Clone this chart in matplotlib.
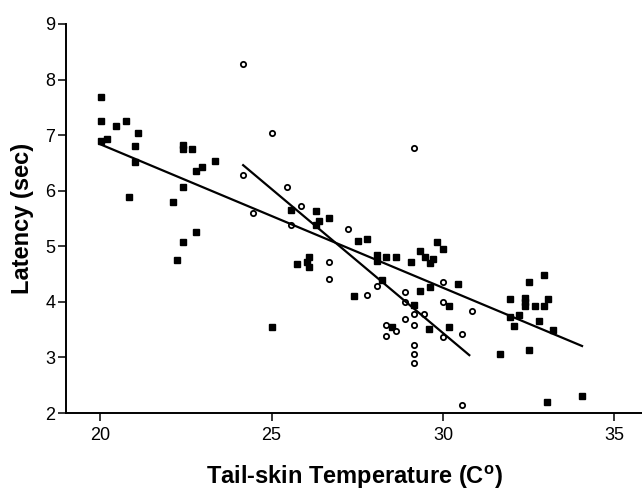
import numpy as np
import matplotlib.pyplot as plt

# Fonts
plt.rcParams['font.family'] = ['Liberation Sans', 'DejaVu Sans']
plt.rcParams['mathtext.fontset'] = 'custom'
plt.rcParams['mathtext.bf'] = 'Liberation Sans:bold'
plt.rcParams['mathtext.rm'] = 'Liberation Sans'

# Filled squares
sq_temp = [20.01, 20.01, 20.45, 20.74, 21.11, 20.01, 20.19, 21.01, 21.01, 20.84,
           22.40, 22.40, 22.68, 22.79, 22.96, 23.35, 22.40, 22.13, 22.80, 22.40,
           22.23, 25.01, 25.56, 26.29, 26.39, 26.67, 26.29, 25.73, 26.02, 26.10,
           26.10, 27.51, 27.78, 28.07, 28.07, 28.34, 28.62, 29.07, 28.22, 27.40,
           29.16, 29.33, 28.50, 29.60, 29.83, 29.33, 30.01, 29.47, 29.62, 29.72,
           30.45, 29.62, 30.18, 30.18, 31.96, 32.52, 32.95, 32.40, 32.40, 32.40,
           32.68, 32.95, 33.07, 31.96, 32.23, 32.08, 32.79, 33.22, 31.68, 32.52,
           33.05, 34.06]
sq_latency = [7.69, 7.25, 7.16, 7.25, 7.03, 6.90, 6.93, 6.80, 6.52, 5.89,
              6.83, 6.75, 6.75, 6.36, 6.42, 6.53, 6.07, 5.80, 5.26, 5.08,
              4.75, 3.54, 5.65, 5.64, 5.45, 5.51, 5.38, 4.69, 4.72, 4.81,
              4.63, 5.10, 5.14, 4.84, 4.74, 4.81, 4.80, 4.72, 4.40, 4.11,
              3.94, 4.20, 3.54, 3.52, 5.08, 4.92, 4.96, 4.81, 4.70, 4.77,
              4.32, 4.27, 3.93, 3.55, 4.05, 4.36, 4.48, 4.07, 4.00, 3.93,
              3.93, 3.93, 4.05, 3.73, 3.76, 3.57, 3.66, 3.49, 3.07, 3.14,
              2.20, 2.30]

# Open circles
ci_temp = [24.17, 24.17, 25.00, 25.44, 24.45, 25.85, 25.56, 27.23, 26.67, 26.67,
           28.07, 27.77, 28.90, 28.90, 29.16, 29.16, 29.45, 28.90, 29.16, 28.33,
           28.62, 28.33, 29.16, 29.16, 29.16, 30.01, 30.01, 30.84, 30.56, 30.01,
           30.56]
ci_latency = [8.28, 6.28, 7.03, 6.07, 5.59, 5.73, 5.38, 5.32, 4.71, 4.41,
              4.29, 4.12, 4.18, 4.00, 6.77, 3.78, 3.79, 3.69, 3.58, 3.58,
              3.48, 3.39, 3.22, 3.06, 2.90, 4.36, 3.99, 3.84, 3.43, 3.37,
              2.14]

# Regression lines (intercept, slope)
sq_fit = (12.00, -0.2582)
ci_fit = (18.98, -0.518)

fig = plt.figure(figsize=(6.42, 4.92), dpi=100)
ax = fig.add_axes([66 / 642, 79 / 492, 1 - 66 / 642, (413 - 24) / 492])

ax.plot(sq_temp, sq_latency, 's', color='black', ms=3.8, mew=1.0)
ax.plot(ci_temp, ci_latency, 'o', mfc='white', mec='black', ms=3.8, mew=1.3)

xs = np.array([min(sq_temp), max(sq_temp)])
ax.plot(xs, sq_fit[0] + sq_fit[1] * xs, color='black', lw=1.6)
xc = np.array([min(ci_temp), 30.77])
ax.plot(xc, ci_fit[0] + ci_fit[1] * xc, color='black', lw=1.6)

ax.set_xlim(19.0, 35.81)
ax.set_ylim(2, 9)
ax.set_xticks([20, 25, 30, 35])
ax.set_yticks(range(2, 10))

ax.spines['top'].set_visible(False)
ax.spines['right'].set_visible(False)
for s in ['left', 'bottom']:
    ax.spines[s].set_linewidth(1.4)
ax.tick_params(axis='both', direction='out', length=5.8, width=1.1, labelsize=13)
ax.tick_params(axis='y', pad=2)
ax.tick_params(axis='x', pad=4)

ax.set_xlabel('Tail-skin Temperature (C$^{\\mathbf{o}}$)', fontsize=17,
              fontweight='bold', labelpad=14)
ax.set_ylabel('Latency (sec)', fontsize=17, fontweight='bold', labelpad=8)

fig.savefig('out.png', dpi=100)
